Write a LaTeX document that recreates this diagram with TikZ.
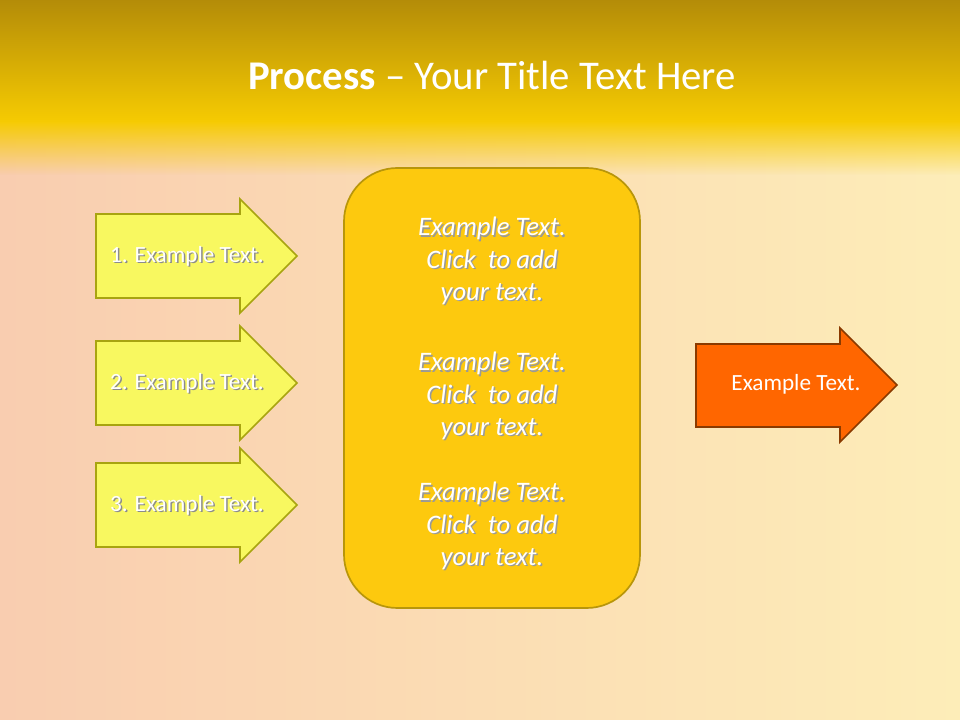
\documentclass[tikz,border=0pt]{standalone}
\usepackage{fontspec}
\setmainfont{Carlito}
\usetikzlibrary{fadings}
\begin{document}
\begin{tikzpicture}[x=0.025cm,y=-0.025cm,
  yarrow/.style={fill=yellowfill,draw=yellowline,line width=1.2pt},
  oarrow/.style={fill=orangefill,draw=orangeline,line width=1.2pt},
  wtxt/.style={text=white,font=\fontsize{16.5}{20}\selectfont},
  itxt/.style={text=white,font=\fontsize{19}{23}\selectfont\itshape,align=center}]
\definecolor{yellowfill}{HTML}{F8F860}
\definecolor{yellowline}{HTML}{A8A410}
\definecolor{orangefill}{HTML}{FF6600}
\definecolor{orangeline}{HTML}{8A3A00}
\definecolor{boxfill}{HTML}{FDC90E}
\definecolor{boxline}{HTML}{B8960A}
\definecolor{bgL}{HTML}{F9CDB0}
\definecolor{bgR}{HTML}{FDEDB8}
\definecolor{topA}{HTML}{B48C08}
\definecolor{topB}{HTML}{F6CB02}
\useasboundingbox (0,0) rectangle (960,720);
\shade[left color=bgL,right color=bgR] (0,0) rectangle (960,720);
\shade[top color=topA,bottom color=topB] (0,0) rectangle (960,122);
\fill[topB,path fading=south] (0,121) rectangle (960,175);
\node[text=white,font=\fontsize{29}{34}\selectfont] (title) at (492,75) {\textbf{Process} -- Your Title Text Here};
% left arrows
\foreach \n/\c in {1/256,2/383,3/505}{
  \draw[yarrow] (96,\c-42) -- (240,\c-42) -- (240,\c-57) -- (297,\c) -- (240,\c+57) -- (240,\c+42) -- (96,\c+42) -- cycle;
  \node[text=black!45,font=\fontsize{16.5}{20}\selectfont] at (188.5,\c+1.5) {\n. Example Text.};
  \node[wtxt] (a\n) at (187,\c) {\n. Example Text.};
}
% central box
\draw[fill=boxfill,draw=boxline,line width=1.2pt,rounded corners=38pt] (344,168) rectangle (640,608);
\foreach \k/\y in {1/261,2/396,3/526}{
  \node[itxt,text=black!40] at (493.5,\y+1.5) {Example Text.\\Click\ \ to add\\your text.};
  \node[itxt] (t\k) at (492,\y) {Example Text.\\Click\ \ to add\\your text.};
}
% right arrow
\draw[oarrow] (696,344) -- (840,344) -- (840,328) -- (897,385) -- (840,442) -- (840,427) -- (696,427) -- cycle;
\node[wtxt] (r) at (796,384) {Example Text.};
\end{tikzpicture}
\end{document}
